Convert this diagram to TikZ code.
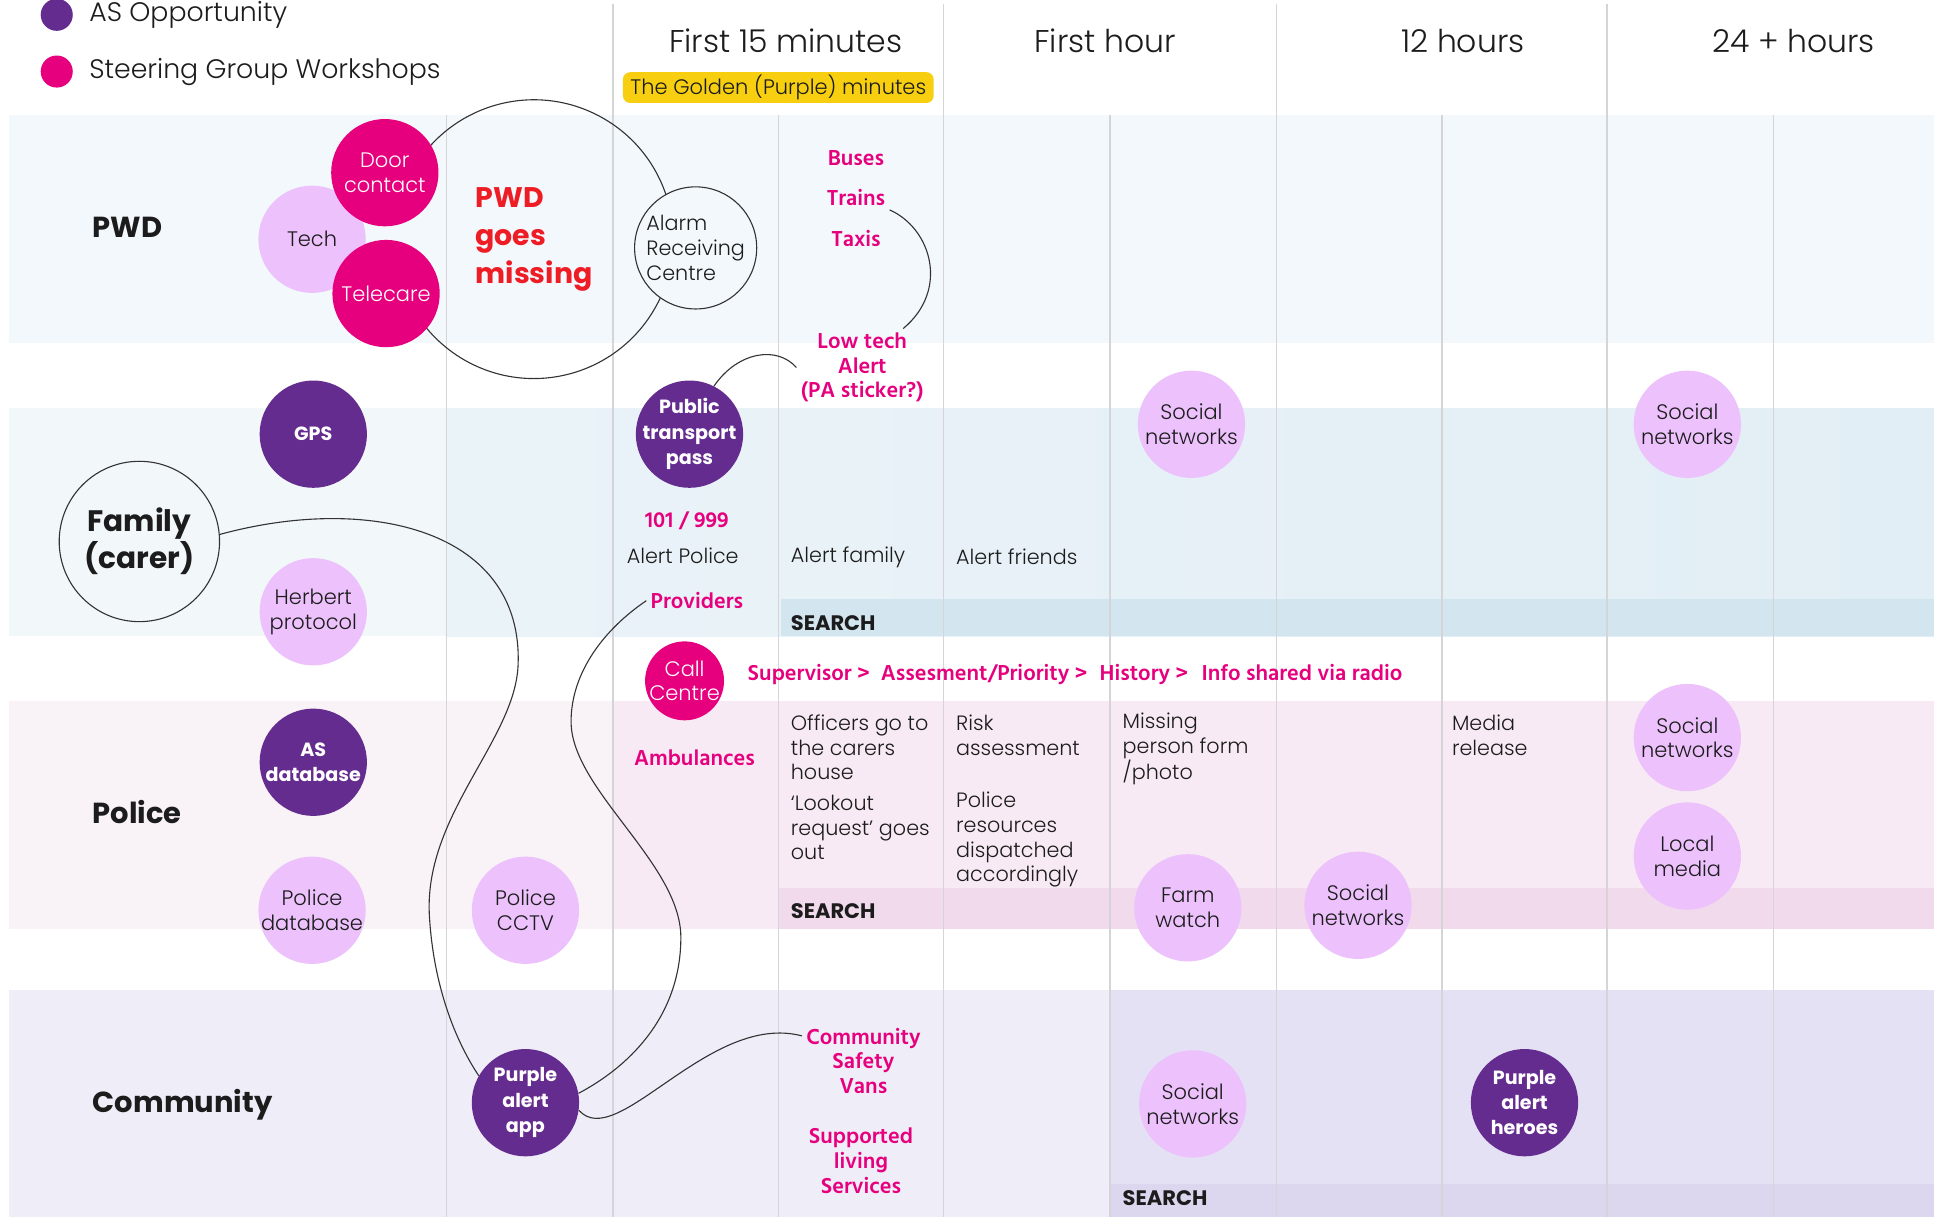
\documentclass[tikz,border=0pt]{standalone}
\usepackage{fontspec}
\setmainfont{Poppins}[UprightFont=* Light, BoldFont=* Bold]
\newfontfamily\pinkfont{Hind Madurai}
\usetikzlibrary{positioning}

\definecolor{asPurple}{HTML}{652C8F}
\definecolor{sgMagenta}{HTML}{E6007E}
\definecolor{ideaPink}{HTML}{ECC1FC}
\definecolor{alarmRed}{HTML}{EE1D25}
\definecolor{golden}{HTML}{F7CF10}
\definecolor{gridGrey}{HTML}{D5D5D8}
\definecolor{lineInk}{HTML}{333333}
\definecolor{bodyInk}{HTML}{1C1C1C}
\definecolor{pwdBand}{HTML}{F3F8FD}
\definecolor{famBandA}{HTML}{F2F7FA}
\definecolor{famBandB}{HTML}{EAF3F8}
\definecolor{famBandC}{HTML}{E2EEF5}
\definecolor{famSearch}{HTML}{D3E6EF}
\definecolor{polBandA}{HTML}{F9F3F8}
\definecolor{polBandB}{HTML}{F7EAF4}
\definecolor{polSearch}{HTML}{F0DAEC}
\definecolor{comBandA}{HTML}{EFEDF8}
\definecolor{comBandB}{HTML}{E5E1F5}
\definecolor{comSearch}{HTML}{DCD7EF}

\begin{document}
\begin{tikzpicture}[x=1pt, y=-1pt, text=bodyInk,
  bubble/.style={circle, minimum size=87pt, inner sep=-12pt, align=center, font=\fontsize{17}{20}\selectfont},
  asopp/.style={bubble, fill=asPurple, text=white, font=\bfseries\fontsize{15.5}{20.5}\selectfont},
  sgw/.style={bubble, fill=sgMagenta, text=white},
  idea/.style={bubble, fill=ideaPink},
  ring/.style={circle, draw=lineInk, line width=0.9pt, inner sep=0pt, align=center},
  pink/.style={text=sgMagenta, align=center, font=\pinkfont\bfseries\fontsize{18}{20}\selectfont},
  note/.style={anchor=west, align=left, inner sep=0pt, font=\fontsize{16.8}{20}\selectfont},
  search/.style={anchor=west, inner sep=0pt, font=\bfseries\fontsize{17}{20}\selectfont},
  lane/.style={anchor=west, inner sep=0pt, font=\bfseries\fontsize{23.5}{30}\selectfont},
  header/.style={font=\fontsize{25.5}{28}\selectfont},
  grid/.style={draw=gridGrey, line width=1.2pt},
  link/.style={draw=lineInk, line width=0.9pt}]
  \useasboundingbox (0,0) rectangle (1568,987);
  \fill[white] (0,0) rectangle (1568,987);

  % lanes
  \fill[pwdBand] (7,93) rectangle (1568,278);
  \fill[famBandA] (7,331) rectangle (362,516);
  \shade[left color=famBandB, right color=famBandC] (362,331) rectangle (1568,516);
  \fill[famSearch] (633,486) rectangle (1568,516);
  \fill[polBandA] (7,568) rectangle (497,753);
  \fill[polBandB] (497,568) rectangle (1568,753);
  \fill[polSearch] (631,720) rectangle (1568,753);
  \fill[comBandA] (7,803) rectangle (900,987);
  \fill[comBandB] (900,803) rectangle (1568,987);
  \fill[comSearch] (900,960) rectangle (1568,987);

  % time columns
  \foreach \gx in {497,765,1035,1303}
    \draw[grid] (\gx,3) -- (\gx,987);
  \foreach \gx in {362,631,900,1169,1438}
    \draw[grid] (\gx,93) -- (\gx,987);

  % legend
  \node[circle, fill=asPurple, minimum size=26pt, inner sep=0pt] (legas) at (46,12) {};
  \node[circle, fill=sgMagenta, minimum size=26pt, inner sep=0pt] (legsg) at (46,58) {};
  \node[right=13pt of legas, inner sep=0pt, font=\fontsize{21.7}{24}\selectfont] (legastext) {AS Opportunity};
  \node[right=13pt of legsg, inner sep=0pt, font=\fontsize{21.7}{24}\selectfont] (legsgtext) {Steering Group Workshops};

  \node[header] (h15) at (637,33) {First 15 minutes};
  \node[header] (h1) at (896,33) {First hour};
  \node[header] (h12) at (1186,33) {12 hours};
  \node[header] (h24) at (1454,33) {24 + hours};
  \node[fill=golden, rounded corners=6pt, minimum width=252pt, minimum height=25pt, inner sep=0pt,
        font=\fontsize{17}{20}\selectfont] (golden) at (631,71) {The Golden (Purple) minutes};

  % PWD
  \node[lane] (pwd) at (75,184) {PWD};
  \node[circle, minimum size=226pt, inner sep=0pt, text=alarmRed, align=left,
        font=\bfseries\fontsize{23}{31}\selectfont] (missing) at (433,194) {PWD\\goes\\missing};
  \draw[link] (missing.150) arc[start angle=-150, end angle=150, radius=113];
  \node[idea] (tech) at (253,194) {Tech};
  \node[sgw] (door) at (312,140) {Door\\contact};
  \node[sgw] (tele) at (313,238) {Telecare};
  \node[ring, minimum size=99pt, inner sep=-6pt, fill=pwdBand, align=left,
        font=\fontsize{16.8}{20}\selectfont] (arc) at (564,201) {Alarm\\Receiving\\Centre};
  \node[pink] (buses) at (694,128) {Buses};
  \node[pink] (trains) at (694,160) {Trains};
  \node[pink] (taxis) at (694,193) {Taxis};
  \node[pink] (lowtech) at (699,298) {Low tech\\Alert\\(PA sticker?)};

  % Family
  \node[ring, minimum size=130pt, font=\bfseries\fontsize{24}{30}\selectfont] (family) at (113,439) {Family\\(carer)};
  \node[asopp] (gps) at (254,352) {GPS};
  \node[idea] (herbert) at (254,496) {Herbert\\protocol};
  \node[asopp] (pass) at (559,352) {Public\\transport\\pass};
  \node[idea] (socfam1) at (966,344) {Social\\networks};
  \node[idea] (socfam2) at (1368,344) {Social\\networks};
  \node[pink] (call101) at (557,422) {101 / 999};
  \node[note] (alertpol) at (508,451) {Alert Police};
  \node[note] (alertfam) at (641,452) {Alert family};
  \node[note] (alertfri) at (775,451) {Alert friends};
  \node[pink] (providers) at (565,487) {Providers};
  \node[search] (searchfam) at (641,505) {SEARCH};

  % Police
  \node[sgw, minimum size=64pt, inner sep=-8pt] (callc) at (555,552) {Call\\Centre};
  \node[pink, anchor=west, inner sep=0pt] (chain) at (606,547) {Supervisor >\hspace{9pt}Assesment/Priority >\hspace{10pt}History >\hspace{11pt}Info shared via radio};
  \node[lane] (police) at (75,658) {Police};
  \node[asopp] (asdb) at (254,618) {AS\\database};
  \node[idea] (pdb) at (253,738) {Police\\database};
  \node[idea] (cctv) at (426,738) {Police\\CCTV};
  \node[pink] (ambul) at (563,614) {Ambulances};
  \node[note] (officers) at (641,606) {Officers go to\\the carers\\house};
  \node[note] (lookout) at (641,671) {‘Lookout\\request’ goes\\out};
  \node[note] (risk) at (775,596) {Risk\\assessment};
  \node[note] (dispatch) at (775,681) {Police\\resources\\dispatched\\accordingly};
  \node[note] (mpform) at (910,607) {Missing\\person form\\/photo};
  \node[note] (media) at (1177,596) {Media\\release};
  \node[idea] (farm) at (963,736) {Farm\\watch};
  \node[idea] (socpol1) at (1101,734) {Social\\networks};
  \node[idea] (socpol2) at (1368,598) {Social\\networks};
  \node[idea] (local) at (1368,694) {Local\\media};
  \node[search] (searchpol) at (641,739) {SEARCH};

  % Community
  \node[lane] (community) at (75,896) {Community};
  \node[asopp] (app) at (426,894) {Purple\\alert\\app};
  \node[pink] (vans) at (700,860) {Community\\Safety\\Vans};
  \node[pink] (living) at (698,941) {Supported\\living\\Services};
  \node[idea] (soccom) at (967,895) {Social\\networks};
  \node[asopp] (heroes) at (1236,894) {Purple\\alert\\heroes};
  \node[search] (searchcom) at (910,971) {SEARCH};

  % links
  \draw[link] (trains.south east) .. controls (755,185) and (770,235) .. ([xshift=-20pt]lowtech.north east);
  \draw[link] (pass.63) .. controls (598,285) and (630,280) .. (lowtech.west);
  \draw[link] (family.5) .. controls (300,400) and (425,430) .. (420,540)
    .. controls (417,600) and (345,660) .. (348,740)
    .. controls (351,800) and (370,845) .. (app.150);
  \draw[link] (providers.west) .. controls (490,510) and (463,545) .. (463,585)
    .. controls (463,640) and (552,700) .. (552,760)
    .. controls (552,820) and (515,862) .. (app.10);
  \draw[link] (app.-8) .. controls (500,935) and (575,820) .. ([yshift=-10pt]vans.north west);
\end{tikzpicture}
\end{document}
